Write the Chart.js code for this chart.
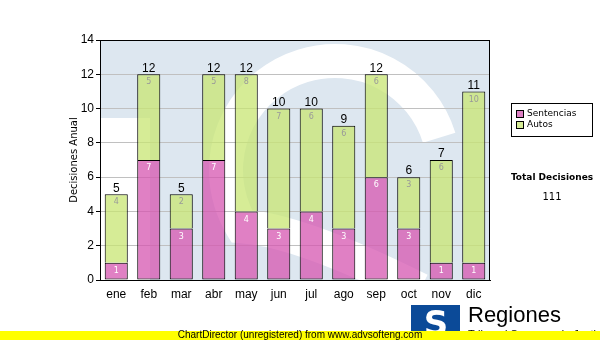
<!DOCTYPE html>
<html>
<head>
<meta charset="utf-8">
<script src="https://cdn.jsdelivr.net/npm/chart.js@4"></script>
<style>
  html, body { margin: 0; padding: 0; background: #fff; }
  #wrap { position: relative; width: 600px; height: 340px; }
</style>
</head>
<body>
<div id="wrap"><canvas id="myChart" width="600" height="340"></canvas></div>
<script>
const meses = ['ene', 'feb', 'mar', 'abr', 'may', 'jun', 'jul', 'ago', 'sep', 'oct', 'nov', 'dic'];
const sentencias = [1, 7, 3, 7, 4, 3, 4, 3, 6, 3, 1, 1];
const autos = [4, 5, 2, 5, 8, 7, 6, 6, 6, 3, 6, 10];
const yTicks = [0, 2, 4, 6, 8, 10, 12, 14];
const totalDecisiones = 111;

const pink = 'rgba(214, 86, 176, 0.75)';
const green = 'rgba(200, 230, 115, 0.75)';

// fondo del area con la marca de agua (logo "S")
const fondo = {
  id: 'fondo',
  beforeDraw(chart) {
    const { ctx, chartArea: a } = chart;
    ctx.save();
    ctx.fillStyle = '#dde7f0';
    ctx.fillRect(a.left, a.top, a.right - a.left, a.bottom - a.top);
    ctx.beginPath();
    ctx.rect(a.left, a.top, a.right - a.left, a.bottom - a.top);
    ctx.clip();
    ctx.fillStyle = '#ffffff';
    ctx.fillRect(a.left, 118, 50, 170);
    ctx.strokeStyle = '#ffffff';
    ctx.lineWidth = 34;
    ctx.lineCap = 'butt';
    ctx.beginPath();
    ctx.arc(335, 170, 109, -0.3, 2.6, true);
    ctx.quadraticCurveTo(300, 230, 420, 290);
    ctx.stroke();
    ctx.restore();
  }
};

// etiquetas, marco, leyenda y pie
const extras = {
  id: 'extras',
  afterDraw(chart) {
    const { ctx, chartArea: a } = chart;
    const m0 = chart.getDatasetMeta(0);
    const m1 = chart.getDatasetMeta(1);
    ctx.save();
    ctx.textAlign = 'center';
    // valores dentro de los segmentos
    ctx.font = '8px "DejaVu Sans"';
    ctx.textBaseline = 'top';
    m0.data.forEach((bar, i) => {
      ctx.fillStyle = '#ffffff';
      ctx.fillText(sentencias[i], bar.x, bar.y + 4);
    });
    m1.data.forEach((bar, i) => {
      ctx.fillStyle = '#999999';
      ctx.fillText(autos[i], bar.x, bar.y + 4);
      ctx.fillStyle = '#000000';
      ctx.font = '12px "Liberation Sans"';
      ctx.textBaseline = 'bottom';
      ctx.fillText(sentencias[i] + autos[i], bar.x, bar.y);
      ctx.font = '8px "DejaVu Sans"';
      ctx.textBaseline = 'top';
    });
    // marco
    ctx.strokeStyle = '#000';
    ctx.lineWidth = 1;
    ctx.strokeRect(a.left + 0.5, a.top + 0.5, a.right - a.left - 1, a.bottom - a.top);

    // leyenda
    ctx.strokeRect(511.5, 103.5, 81, 33);
    ctx.textAlign = 'left';
    ctx.textBaseline = 'middle';
    ctx.font = '9px "DejaVu Sans"';
    [['Sentencias', '#de80c4'], ['Autos', '#d6ec96']].forEach((it, k) => {
      const y = 114 + k * 11;
      ctx.fillStyle = it[1];
      ctx.fillRect(516, y - 4, 8, 8);
      ctx.strokeRect(516.5, y - 3.5, 7, 7);
      ctx.fillStyle = '#000';
      ctx.fillText(it[0], 527, y);
    });
    ctx.textAlign = 'center';
    ctx.font = 'bold 9px "DejaVu Sans"';
    ctx.fillText('Total Decisiones', 552, 178);
    ctx.font = '10px "DejaVu Sans"';
    ctx.fillText(String(totalDecisiones), 552, 197);

    // logo inferior
    ctx.fillStyle = '#0b4a98';
    ctx.fillRect(411, 305, 49, 30);
    ctx.fillStyle = '#fff';
    ctx.font = 'bold 34px "DejaVu Sans"';
    ctx.fillText('S', 436, 326);
    ctx.fillStyle = '#000';
    ctx.textAlign = 'left';
    ctx.font = '22px "Liberation Sans"';
    ctx.textBaseline = 'alphabetic';
    ctx.fillText('Regiones', 468, 322);
    ctx.font = '11px "Liberation Sans"';
    ctx.fillText('Tribunal Supremo de Justicia', 468, 338);

    // barra amarilla
    ctx.fillStyle = '#ffff00';
    ctx.fillRect(0, 331, 600, 9);
    ctx.fillStyle = '#000';
    ctx.textAlign = 'center';
    ctx.textBaseline = 'middle';
    ctx.font = '10px "Liberation Sans"';
    ctx.fillText('ChartDirector (unregistered) from www.advsofteng.com', 300, 335);
    ctx.restore();
  }
};

new Chart(document.getElementById('myChart'), {
  type: 'bar',
  data: {
    labels: meses,
    datasets: [
      { label: 'Sentencias', data: sentencias, backgroundColor: pink, borderColor: '#000', borderWidth: 1, borderSkipped: false },
      { label: 'Autos', data: autos, backgroundColor: green, borderColor: '#000', borderWidth: { top: 1, left: 1, right: 1, bottom: 0 }, borderSkipped: false }
    ]
  },
  options: {
    responsive: false,
    animation: false,
    events: [],
    layout: { padding: { left: 60, top: 40, right: 110, bottom: 0 } },
    plugins: { legend: { display: false }, tooltip: { enabled: false } },
    datasets: { bar: { categoryPercentage: 1, barPercentage: 0.71 } },
    scales: {
      x: {
        stacked: true,
        grid: { display: false, drawOnChartArea: false, tickLength: 5, color: '#000' },
        border: { color: '#000' },
        ticks: { color: '#000', font: { family: 'Liberation Sans', size: 12 }, padding: 2 },
        afterFit(s) { s.height = 60; }
      },
      y: {
        stacked: true,
        min: 0, max: 14,
        afterBuildTicks(s) { s.ticks = yTicks.map(v => ({ value: v })); },
        grid: { color: '#c0c0c0', tickLength: 4, tickColor: '#000' },
        border: { color: '#000' },
        ticks: { color: '#000', font: { family: 'Liberation Sans', size: 12 }, padding: 2 },
        title: { display: true, text: 'Decisiones Anual', color: '#000', font: { family: 'DejaVu Sans', size: 10 }, padding: { top: 8, bottom: 0 } },
        afterFit(s) { s.width = 40; }
      }
    }
  },
  plugins: [fondo, extras]
});
</script>
</body>
</html>
